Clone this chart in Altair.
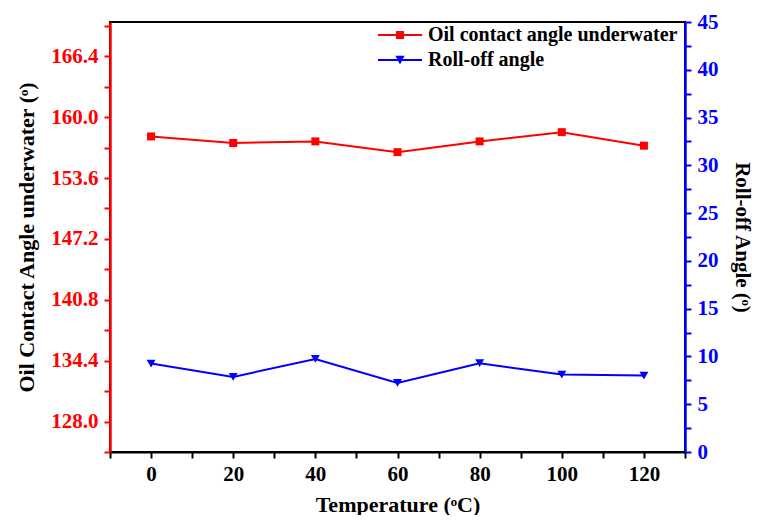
import altair as alt
import pandas as pd

temperature = [0, 20, 40, 60, 80, 100, 120]
oil_contact_angle = [157.97, 157.28, 157.45, 156.32, 157.45, 158.42, 157.0]
roll_off_angle = [9.26, 7.86, 9.74, 7.23, 9.29, 8.10, 8.0]
series_names = ["Oil contact angle underwater", "Roll-off angle"]

x_ticks = list(range(-10, 131, 10))
left_ticks = [round(124.8 + 3.2 * i, 1) for i in range(15)]
right_ticks = [2.5 * i for i in range(19)]

df = pd.DataFrame({"T": temperature, "oca": oil_contact_angle, "roa": roll_off_angle})
legend_df = pd.DataFrame({"series": series_names})

FONT = "Liberation Serif, Times New Roman, serif"
RED = "#FF0000"
BLUE = "#0000FF"

x_enc = alt.X(
    "T:Q",
    scale=alt.Scale(domain=[-10, 130], nice=False, zero=False),
    axis=alt.Axis(
        values=x_ticks,
        labelExpr="(datum.value % 20 == 0 && datum.value >= 0 && datum.value <= 120) ? datum.label : ''",
        title="Temperature (ᵒC)",
        grid=False,
        domainColor="black", domainWidth=2,
        tickColor="black", tickWidth=2, tickSize=6,
        labelFont=FONT, labelFontWeight="bold", labelFontSize=21, labelColor="black",
        labelPadding=5,
        titleFont=FONT, titleFontWeight="bold", titleFontSize=22, titleColor="black",
        titlePadding=10,
    ),
)

left_axis = alt.Axis(
    orient="left",
    values=left_ticks,
    labelExpr="abs(round(datum.value / 6.4) * 6.4 - datum.value) < 0.01 ? format(datum.value, '.1f') : ''",
    title="Oil Contact Angle underwater (ᵒ)",
    grid=False,
    domainColor=RED, domainWidth=2.5,
    tickColor=RED, tickWidth=2, tickSize=6,
    labelFont=FONT, labelFontWeight="bold", labelFontSize=21, labelColor=RED,
    labelPadding=6,
    titleFont=FONT, titleFontWeight="bold", titleFontSize=22, titleColor="black",
    titlePadding=12,
)

right_axis = alt.Axis(
    orient="right",
    values=right_ticks,
    labelExpr="datum.value % 5 == 0 ? datum.label : ''",
    title="Roll-off Angle (ᵒ)",
    grid=False,
    domainColor=BLUE, domainWidth=2.5,
    tickColor=BLUE, tickWidth=2, tickSize=6,
    labelFont=FONT, labelFontWeight="bold", labelFontSize=21, labelColor=BLUE,
    labelPadding=6,
    titleFont=FONT, titleFontWeight="bold", titleFontSize=21, titleColor="black",
    titlePadding=13,
)

red_base = alt.Chart(df).encode(
    x=x_enc,
    y=alt.Y("oca:Q", scale=alt.Scale(domain=[124.8, 170.0], nice=False, zero=False), axis=left_axis),
)
red_layer = alt.layer(
    red_base.mark_line(color=RED, strokeWidth=2),
    red_base.mark_point(shape="square", filled=True, color=RED, size=64, opacity=1),
)

blue_base = alt.Chart(df).encode(
    x=x_enc,
    y=alt.Y("roa:Q", scale=alt.Scale(domain=[0, 45], nice=False, zero=False), axis=right_axis),
)
blue_layer = alt.layer(
    blue_base.mark_line(color=BLUE, strokeWidth=2),
    blue_base.mark_point(shape="triangle-down", filled=True, color=BLUE, size=80, opacity=1),
)

square_path = "M-2,-0.09H2V0.09H-2Z M-0.36,-0.36H0.36V0.36H-0.36Z"
tri_path = "M-2,-0.09H2V0.09H-2Z M-0.42,-0.38H0.42L0,0.42Z"

legend_props = dict(
    title=None,
    orient="none",
    legendX=279,
    legendY=2,
    labelFont=FONT,
    labelFontWeight="bold",
    labelFontSize=20,
    labelColor="black",
    labelOffset=17,
    rowPadding=4,
    symbolSize=484,
    symbolStrokeWidth=0,
    symbolOpacity=1,
    labelLimit=400,
)

legend_layer = (
    alt.Chart(legend_df)
    .transform_filter("false")
    .mark_point(filled=True, opacity=1, size=484)
    .encode(
        color=alt.Color(
            "series:N",
            scale=alt.Scale(domain=series_names, range=[RED, BLUE]),
            legend=alt.Legend(**legend_props),
        ),
        shape=alt.Shape(
            "series:N",
            scale=alt.Scale(domain=series_names, range=[square_path, tri_path]),
            legend=alt.Legend(**legend_props),
        ),
    )
)

chart = (
    alt.layer(red_layer, blue_layer, legend_layer)
    .resolve_scale(y="independent")
    .properties(
        width=575,
        height=430,
        padding={"left": 7, "top": 3, "right": 3, "bottom": 0},
        background="white",
    )
    .configure_view(stroke="black", strokeWidth=2)
)

chart.save("out.html", embed_options={"renderer": "svg", "actions": False})
